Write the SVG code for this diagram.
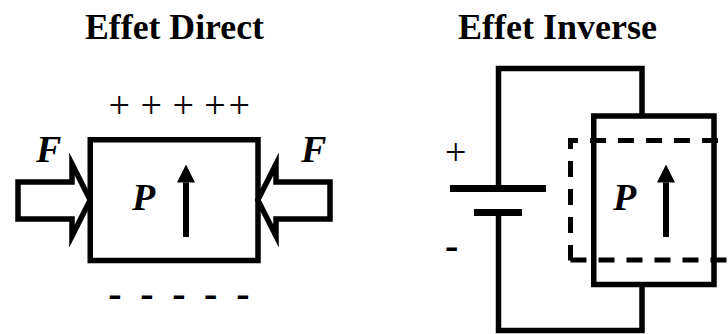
<svg xmlns="http://www.w3.org/2000/svg" width="728" height="334" viewBox="0 0 728 334">
<style>
text{font-family:"Liberation Serif","Times New Roman",serif;fill:#000}
.title{font-size:35px;font-weight:700}
.sym{font-size:38px}
.dash{font-size:40px;font-weight:700}
.var{font-size:38px;font-weight:700;font-style:italic}
.line{fill:none;stroke:#000;stroke-width:5.5}
.box{fill:#fff;stroke:#000;stroke-width:5.5;stroke-miterlimit:10}
.pole{stroke:#000;stroke-width:7;fill:none}
.dashed{fill:none;stroke:#000;stroke-width:5;stroke-dasharray:16 12}
.shaft{stroke:#000;stroke-width:6;fill:none}
</style>
<defs>
<marker id="head" markerUnits="userSpaceOnUse" markerWidth="18" markerHeight="18" refX="0" refY="9" orient="auto"><path d="M0 0L18 9L0 18Z" fill="#000"/></marker>
</defs>
<text class="title" x="85" y="39" textLength="179" lengthAdjust="spacingAndGlyphs">Effet Direct</text>
<text class="title" x="458" y="39" textLength="199" lengthAdjust="spacingAndGlyphs">Effet Inverse</text>
<g id="connectors">
<path class="line" d="M498.5 188V68.5H642V116"/>
<path class="line" d="M498.5 212V330.5H642V284"/>
</g>
<g id="piezo-direct">
<rect class="line" x="90.25" y="139.75" width="167.75" height="120.75"/>
<text class="var" x="132" y="210">P</text>
<path class="shaft" d="M186 237V182.5" marker-end="url(#head)"/>
</g>
<g id="force-left">
<path class="box" d="M18 182H72V164L90.2 200L72 236V219H18Z"/>
<text class="var" x="36" y="162">F</text>
</g>
<g id="force-right">
<path class="box" d="M330 182H276V164L257.8 200L276 236V219H330Z"/>
<text class="var" x="301" y="162">F</text>
</g>
<g id="charges-top"><text class="sym" y="117.5" x="108.6 125 140.6 157 172.6 189 204.3 228.6">+ + + ++</text></g>
<g id="charges-bottom"><text class="dash" y="306.5" x="108.3 125 140.3 157 172.3 189 204 221 236.3">- - - - -</text></g>
<g id="battery">
<path class="pole" d="M450 188.5H546"/>
<path class="pole" d="M474 212.5H522"/>
<text class="sym" x="445" y="165">+</text>
<text class="dash" x="445" y="259">-</text>
</g>
<g id="piezo-inverse">
<rect class="line" x="593.75" y="116" width="120.25" height="168.5"/>
<path class="dashed" d="M718 140.5H570.5V260.5"/>
<path class="dashed" d="M570.5 260H726.5"/>
<text class="var" x="613" y="210">P</text>
<path class="shaft" d="M666 237V182.5" marker-end="url(#head)"/>
</g>
</svg>
